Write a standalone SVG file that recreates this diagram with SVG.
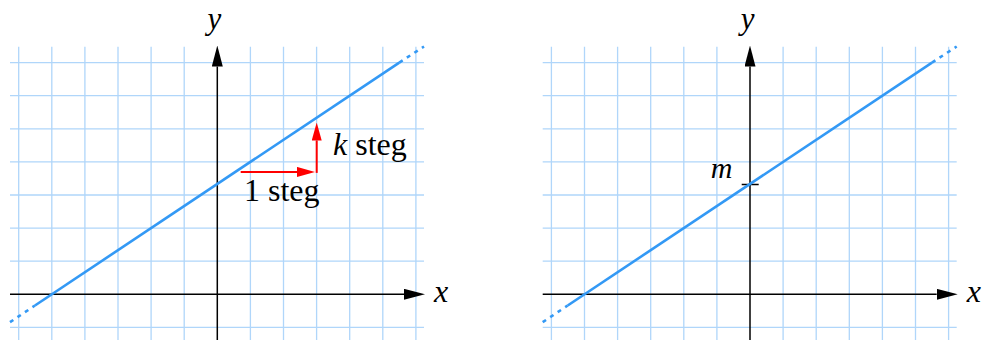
<svg xmlns="http://www.w3.org/2000/svg" width="984" height="340" viewBox="0 0 984 340" font-family="Liberation Serif">
  <defs>
    <marker id="axhead" markerUnits="userSpaceOnUse" viewBox="0 0 21 11" refX="0" refY="5.5" markerWidth="21" markerHeight="11" orient="auto">
      <path d="M0,0 L21,5.5 L0,11 Z" fill="#000"/>
    </marker>
    <marker id="redhead" markerUnits="userSpaceOnUse" viewBox="0 0 18 10" refX="0" refY="5" markerWidth="18" markerHeight="10" orient="auto">
      <path d="M0,0 L18,5 L0,10 Z" fill="#ff0000"/>
    </marker>
  </defs>

  <g id="left-grid" stroke="#b0d6fa" stroke-width="1.3">
    <path d="M18.7,46.7V340 M51.8,46.7V340 M84.9,46.7V340 M118,46.7V340 M151.1,46.7V340 M184.2,46.7V340 M250.4,46.7V340 M283.5,46.7V340 M316.6,46.7V340 M349.7,46.7V340 M382.8,46.7V340 M415.9,46.7V340 M10,62.6H424 M10,95.7H424 M10,128.8H424 M10,161.9H424 M10,195H424 M10,228.1H424 M10,261.2H424 M10,327.4H424" fill="none"/>
  </g>
  <g id="right-grid" stroke="#b0d6fa" stroke-width="1.3">
    <path d="M551.4,46.7V340 M584.5,46.7V340 M617.6,46.7V340 M650.7,46.7V340 M683.8,46.7V340 M716.9,46.7V340 M783.1,46.7V340 M816.2,46.7V340 M849.3,46.7V340 M882.4,46.7V340 M915.5,46.7V340 M948.6,46.7V340 M542.7,62.6H956.7 M542.7,95.7H956.7 M542.7,128.8H956.7 M542.7,161.9H956.7 M542.7,195H956.7 M542.7,228.1H956.7 M542.7,261.2H956.7 M542.7,327.4H956.7" fill="none"/>
  </g>

  <g id="connectors" fill="none">
    <g stroke="#000" stroke-width="1.5">
      <line x1="10" y1="294.3" x2="404" y2="294.3" marker-end="url(#axhead)"/>
      <line x1="217.3" y1="340" x2="217.3" y2="66.5" marker-end="url(#axhead)"/>
      <line x1="542.7" y1="294.3" x2="936.7" y2="294.3" marker-end="url(#axhead)"/>
      <line x1="750" y1="340" x2="750" y2="66.5" marker-end="url(#axhead)"/>
      <line x1="741.7" y1="184.5" x2="758.7" y2="184.5"/>
    </g>
    <g stroke="#3399f5" stroke-width="2.6">
      <line x1="10" y1="322.2" x2="35" y2="305.5" stroke-dasharray="4 5"/>
      <line x1="35" y1="305.5" x2="399.3" y2="62.6"/>
      <line x1="399.3" y1="62.6" x2="424" y2="46.5" stroke-dasharray="4 5"/>
      <line x1="542.7" y1="322.2" x2="567.7" y2="305.5" stroke-dasharray="4 5"/>
      <line x1="567.7" y1="305.5" x2="932" y2="62.6"/>
      <line x1="932" y1="62.6" x2="956.7" y2="46.5" stroke-dasharray="4 5"/>
    </g>
    <g stroke="#ff0000" stroke-width="2">
      <line x1="240.7" y1="171.9" x2="297" y2="171.9" marker-end="url(#redhead)"/>
      <line x1="316.7" y1="172.9" x2="316.7" y2="140.5" marker-end="url(#redhead)"/>
    </g>
  </g>

  <g id="left-labels">
    <text font-family="Liberation Serif" font-style="italic" x="207.5" y="29" font-size="31">y</text>
    <text font-family="Liberation Serif" font-style="italic" x="434" y="302" font-size="32">x</text>
    <text font-family="Liberation Serif" x="244" y="201" font-size="32">1 steg</text>
    <text font-family="Liberation Serif" x="333" y="155" font-size="32"><tspan font-style="italic">k</tspan> steg</text>
  </g>
  <g id="right-labels">
    <text font-family="Liberation Serif" font-style="italic" x="740.7" y="29" font-size="31">y</text>
    <text font-family="Liberation Serif" font-style="italic" x="966.7" y="302" font-size="32">x</text>
    <text font-family="Liberation Serif" font-style="italic" x="710.7" y="178" font-size="30">m</text>
  </g>
</svg>
